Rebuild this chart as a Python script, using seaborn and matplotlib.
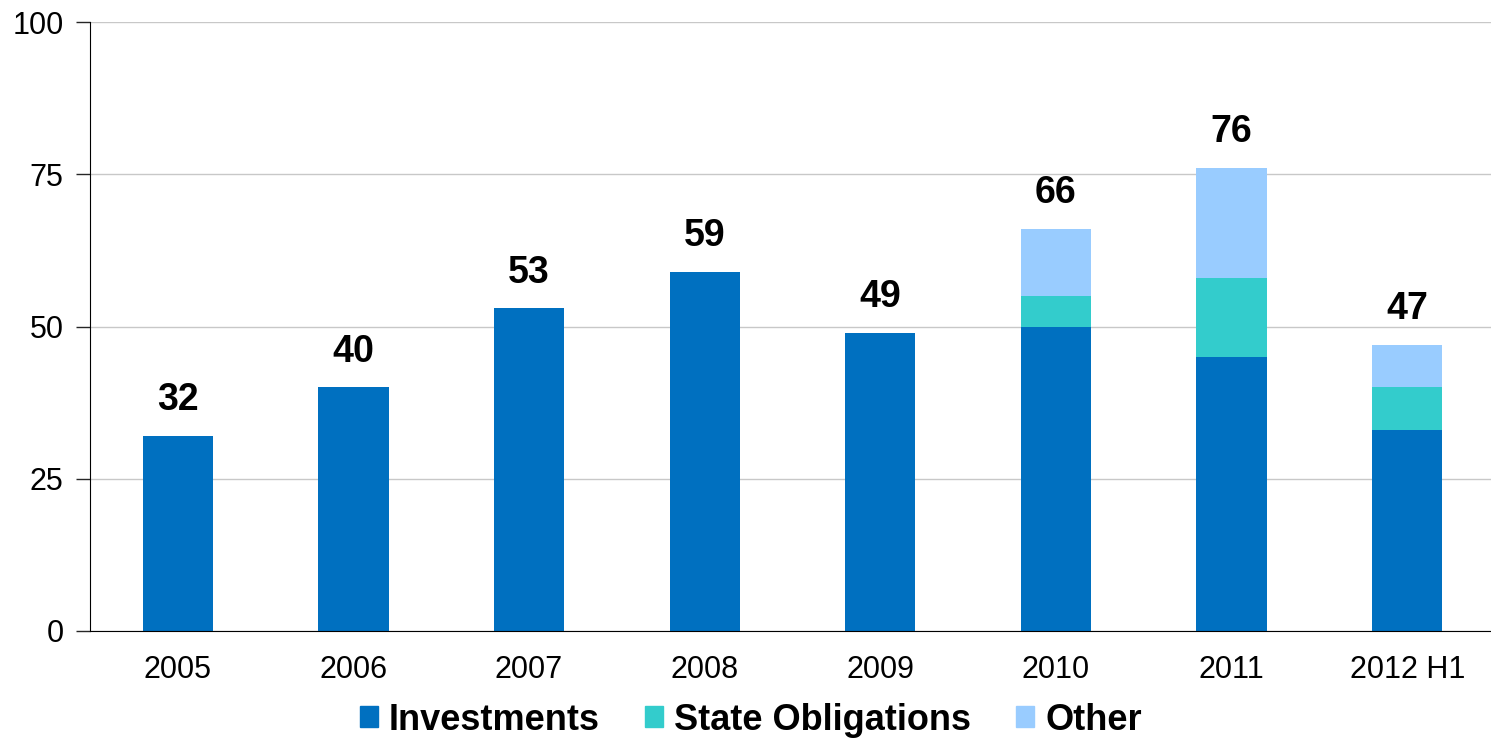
import matplotlib
matplotlib.use("Agg")
import matplotlib.pyplot as plt
import seaborn as sns
from matplotlib.patches import Patch

# data
years = ["2005", "2006", "2007", "2008", "2009", "2010", "2011", "2012 H1"]
investments = [32, 40, 53, 59, 49, 50, 45, 33]
state_obligations = [0, 0, 0, 0, 0, 5, 13, 7]
other = [0, 0, 0, 0, 0, 11, 18, 7]
totals = [32, 40, 53, 59, 49, 66, 76, 47]

c_inv = "#0070C0"
c_state = "#33CCCC"
c_other = "#99CCFF"

sns.set_style("white")
plt.rcParams["font.family"] = ["Liberation Sans", "DejaVu Sans"]

fig = plt.figure(figsize=(14.91, 7.41), dpi=100)
ax = fig.add_axes([90 / 1491, 1 - 631 / 741, 1405 / 1491, 609 / 741])

bottom2 = [a + b for a, b in zip(investments, state_obligations)]
sns.barplot(x=years, y=investments, color=c_inv, width=0.4, ax=ax,
            saturation=1, linewidth=0)
sns.barplot(x=years, y=state_obligations, bottom=investments, color=c_state,
            width=0.4, ax=ax, saturation=1, linewidth=0)
sns.barplot(x=years, y=other, bottom=bottom2, color=c_other, width=0.4,
            ax=ax, saturation=1, linewidth=0)

for i, t in enumerate(totals):
    ax.text(i, t + 2.9, str(t), ha="center", va="bottom", fontsize=27,
            fontweight="bold", color="black")

ax.set_xlim(-0.5, 7.5)
ax.set_ylim(0, 100)
ax.set_yticks([0, 25, 50, 75, 100])
ax.yaxis.grid(True, color="#C8C8C8", linewidth=1)
ax.set_axisbelow(True)
for s in ["top", "right"]:
    ax.spines[s].set_visible(False)
ax.spines["left"].set_color("black")
ax.spines["bottom"].set_color("black")
ax.tick_params(axis="y", left=True, length=10, width=1, labelsize=22, pad=9,
               labelcolor="black")
ax.tick_params(axis="x", bottom=False, labelsize=22, pad=14, labelcolor="black")

handles = [Patch(color=c_inv, label="Investments"),
           Patch(color=c_state, label="State Obligations"),
           Patch(color=c_other, label="Other")]
fig.legend(handles=handles, loc="center", bbox_to_anchor=(751 / 1491, 1 - 720 / 741),
           ncol=3, frameon=False, prop={"size": 26, "weight": "bold"},
           labelcolor="black", handlelength=0.5, handleheight=0.53,
           handletextpad=0.3, columnspacing=1.25)

fig.savefig("out.png", dpi=100)
